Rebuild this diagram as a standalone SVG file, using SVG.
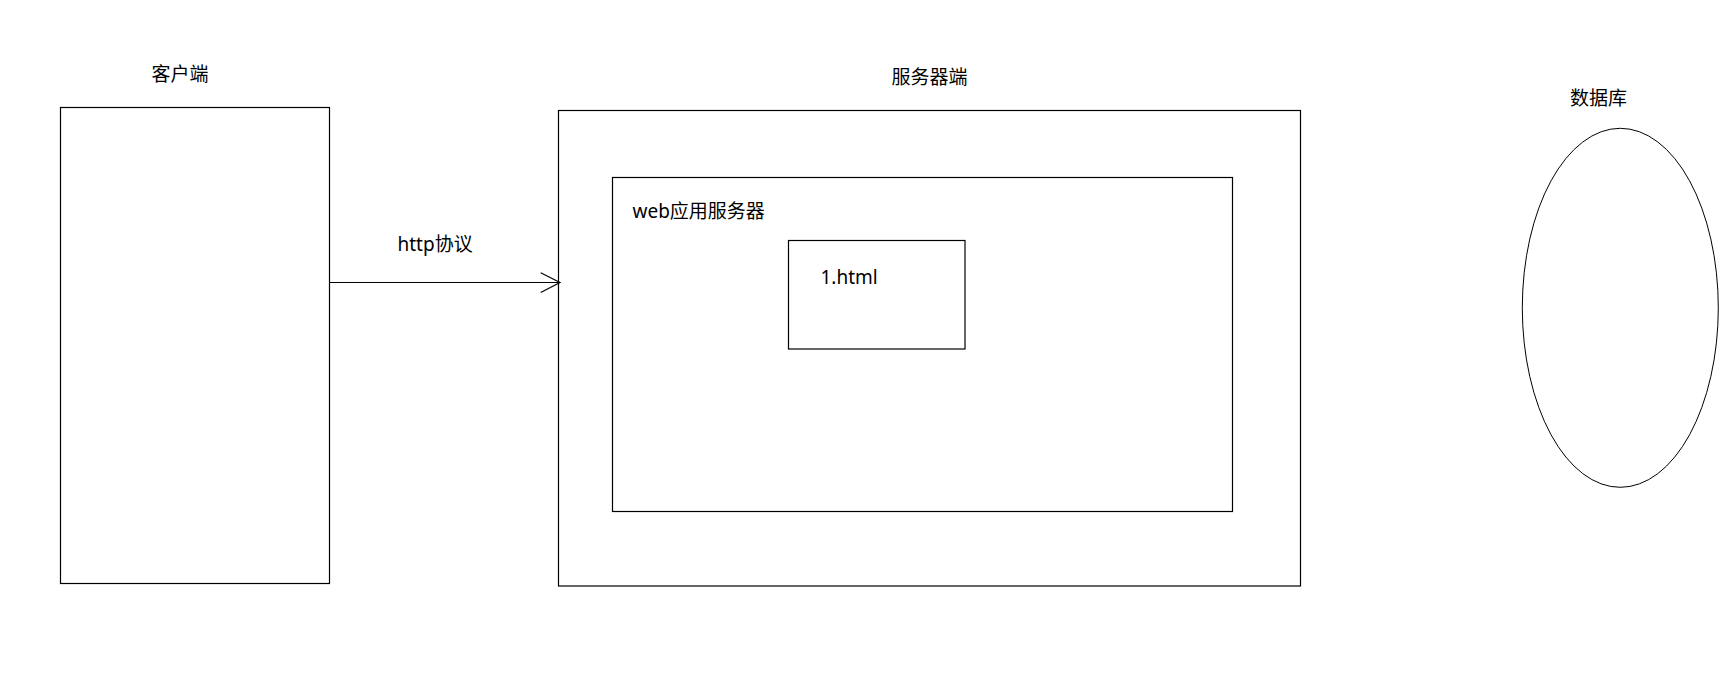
<svg xmlns="http://www.w3.org/2000/svg" width="1736" height="695" viewBox="0 0 1736 695">
<style>
.box{fill:none;stroke:#000;stroke-width:1.2}
.lbl{font-family:"Noto Sans","Noto Sans CJK SC",sans-serif;font-size:19px;fill:#000}
.conn{fill:none;stroke:#000;stroke-width:1.2}
</style>
<rect width="1736" height="695" fill="#fff"/>
<g id="client">
<rect class="box" x="60.5" y="107.5" width="269" height="476"/>
<text class="lbl" x="151.5" y="81">客户端</text>
</g>
<g id="server">
<rect class="box" x="558.5" y="110.5" width="742" height="475.5"/>
<text class="lbl" x="891.5" y="83.5">服务器端</text>
</g>
<g id="webserver">
<rect class="box" x="612.5" y="177.5" width="620" height="334"/>
<text class="lbl" x="632.5" y="218">web应用服务器</text>
</g>
<g id="html">
<rect class="box" x="788.5" y="240.5" width="176.5" height="108.5"/>
<text class="lbl" x="820.5" y="284">1.html</text>
</g>
<g id="database">
<ellipse cx="1620.3" cy="307.8" rx="98" ry="179.5" fill="none" stroke="#000" stroke-width="1"/>
<text class="lbl" x="1570" y="105">数据库</text>
</g>
<g id="connectors">
<line class="conn" x1="329.5" y1="282.5" x2="560" y2="282.5"/>
<polyline class="conn" points="540.7,272.7 560,282.5 540.7,292.5"/>
<text class="lbl" x="397.5" y="251">http协议</text>
</g>
</svg>
